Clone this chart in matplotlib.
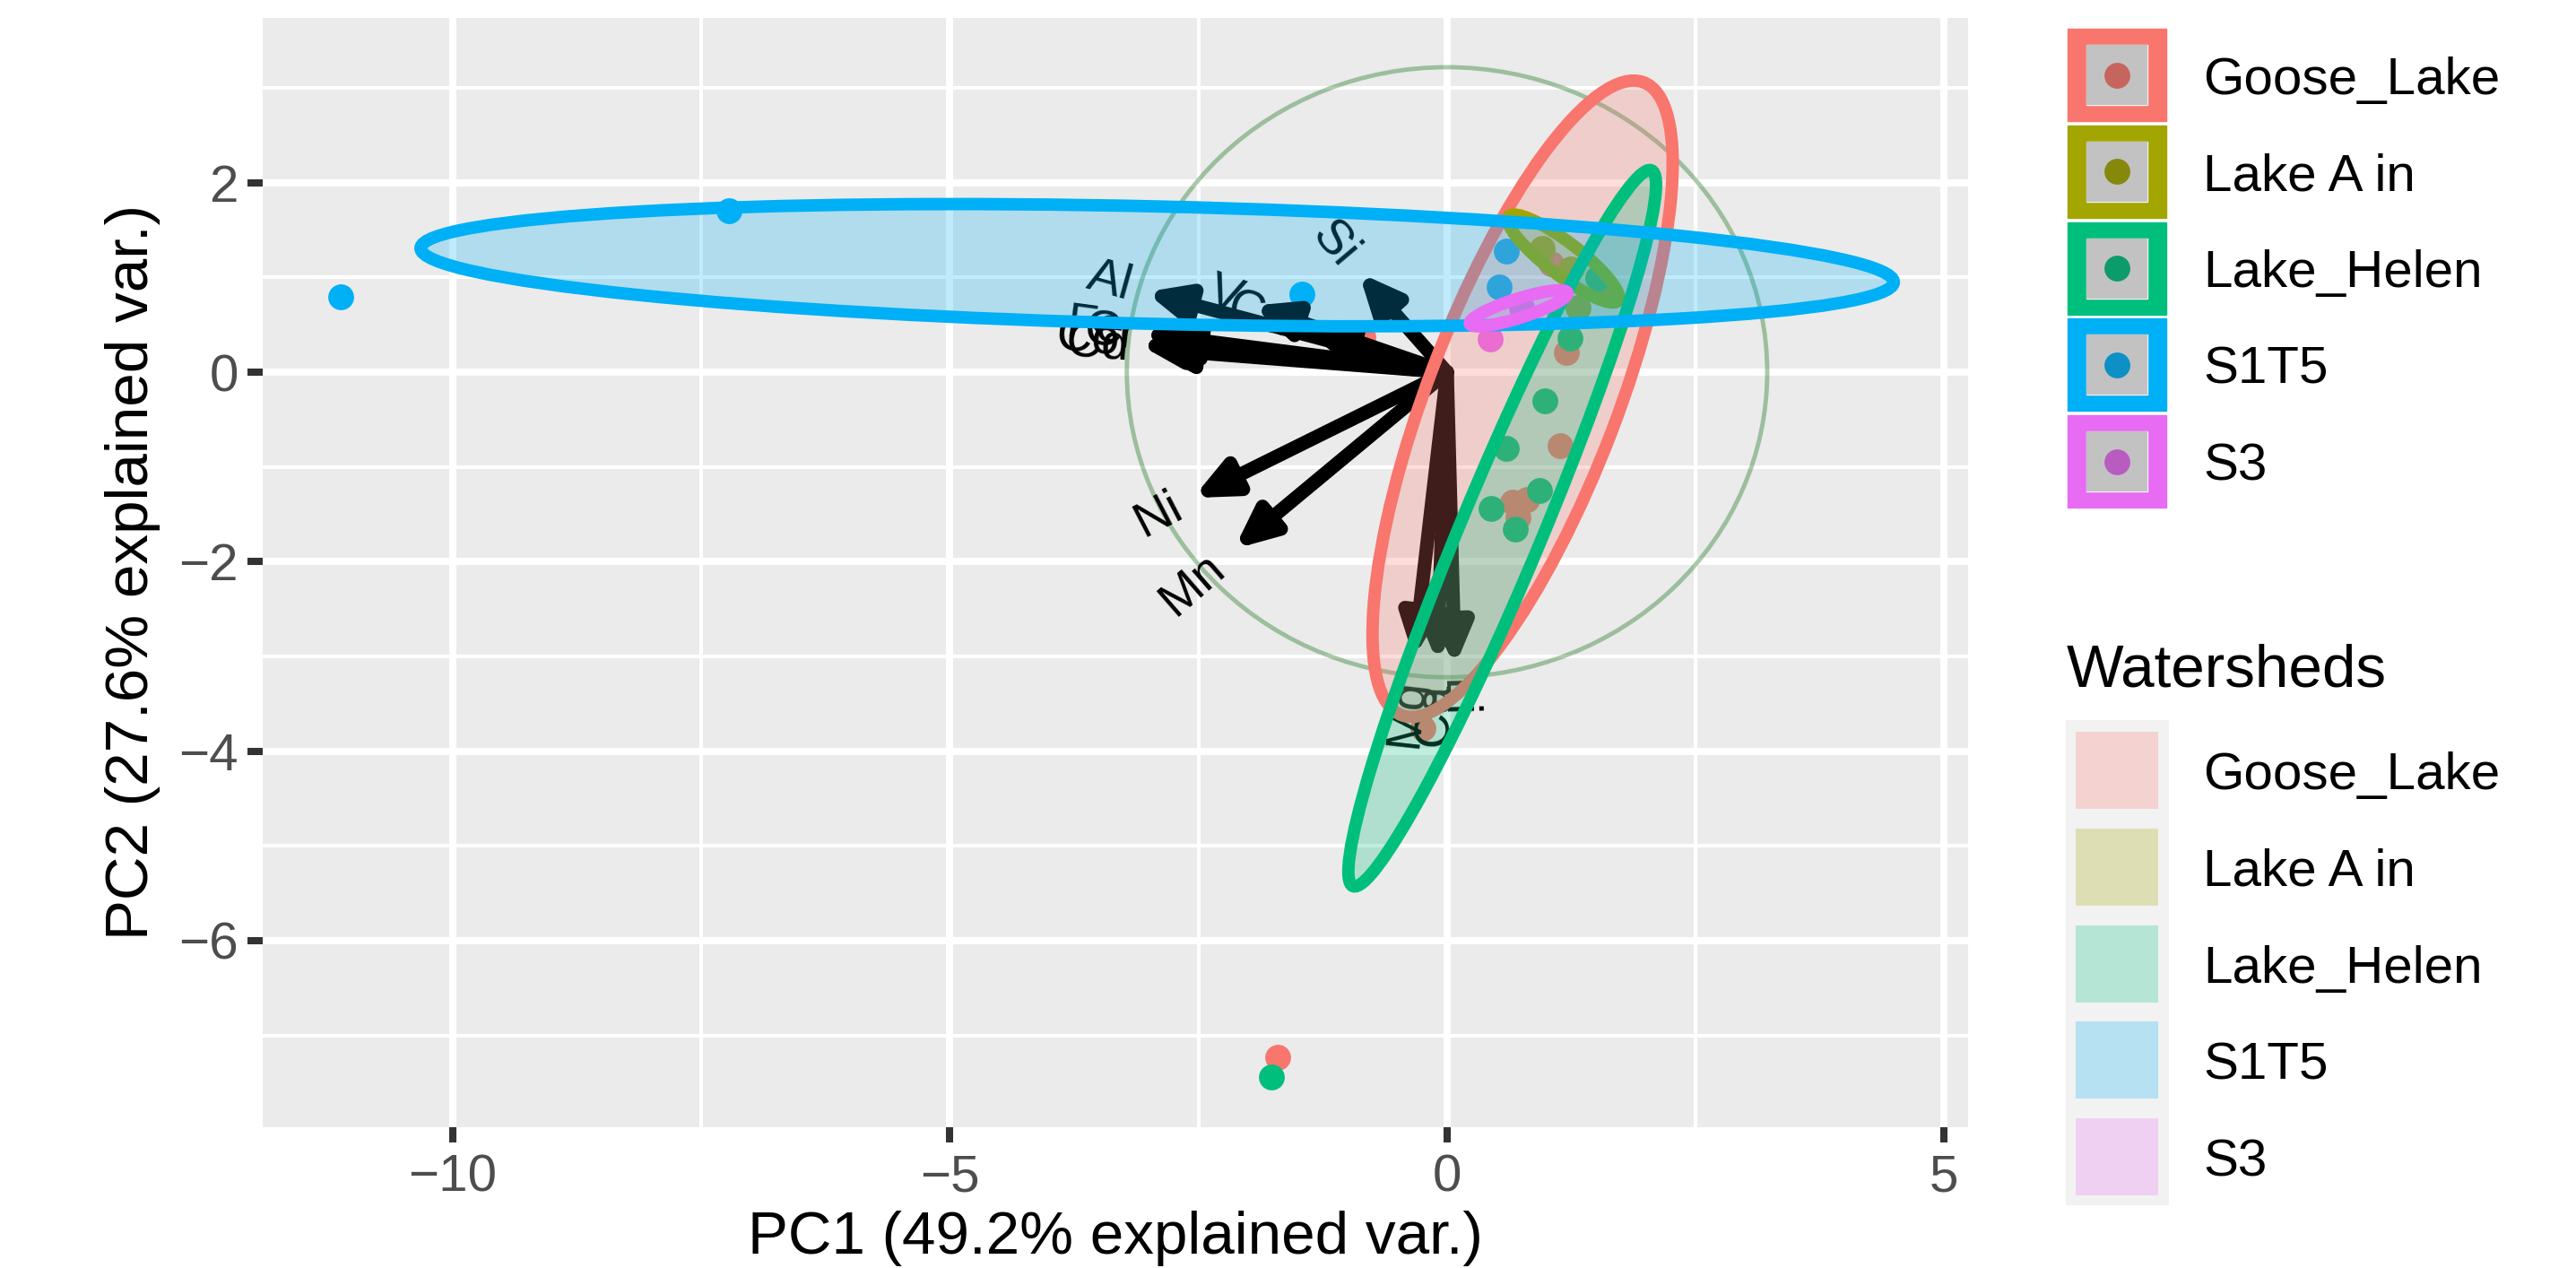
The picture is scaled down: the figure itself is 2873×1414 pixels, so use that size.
"""PCA biplot of water chemistry by watershed (ggbiplot-style)."""

import matplotlib

matplotlib.use("Agg")
import matplotlib.pyplot as plt
import numpy as np
from matplotlib.colors import to_rgba
from matplotlib.font_manager import FontProperties
from matplotlib.patches import Ellipse, FancyArrowPatch, Rectangle
from matplotlib.textpath import TextPath

plt.rcParams["font.family"] = ["Liberation Sans", "DejaVu Sans"]

W, H = 2873, 1414

# --- data ---
groups = ["Goose_Lake", "Lake A in", "Lake_Helen", "S1T5", "S3"]
group_colors = ["#F8766D", "#A3A500", "#00BF7D", "#00B0F6", "#E76BF3"]

# sample scores on PC1 / PC2
goose_pc1 = [-1.70, 1.05, 1.20, 1.14, 0.66, 0.80, 0.71, -0.24, -0.85]
goose_pc2 = [-7.23, 1.15, 0.21, -0.78, -1.37, -1.34, -1.53, -3.76, 0.37]
lakea_pc1 = [0.96, 1.25, 1.56, 1.32]
lakea_pc2 = [1.31, 1.09, 0.87, 0.68]
helen_pc1 = [-1.77, 1.24, 0.98, 0.60, 0.44, 0.69, 0.93, 1.52]
helen_pc2 = [-7.44, 0.36, -0.30, -0.80, -1.44, -1.66, -1.25, 0.99]
s1t5_pc1 = [-11.13, -7.22, -1.46, 0.60, 0.52]
s1t5_pc2 = [0.80, 1.70, 0.82, 1.28, 0.90]
s3_pc1 = [0.43, 0.75]
s3_pc2 = [0.35, 0.68]

# 68% ellipses per group: centre, semi-axes, angle (deg)
ell_cx = [0.76, 1.17, 0.555, -2.915, 0.72]
ell_cy = [-0.28, 1.20, -1.647, 1.13, 0.675]
ell_a = [3.555, 0.707, 4.065, 7.41, 0.517]
ell_b = [0.96, 0.17, 0.41, 0.62, 0.10]
ell_angle = [70.1, -39.0, 68.35, -1.39, 18.6]

# variable loadings (arrows)
var_names = ["Si", "Al", "V", "Cu", "Fe", "Cr", "Co", "Cd", "Ni", "Mn", "Mg", "Ca", "Li"]
var_pc1 = [-0.92, -3.08, -2.00, -1.45, -3.12, -3.00, -3.15, -3.05, -2.60, -2.18, -0.34, -0.10, 0.08]
var_pc2 = [1.09, 0.86, 0.72, 0.45, 0.42, 0.36, 0.30, 0.25, -1.35, -1.90, -3.07, -3.12, -3.16]
circle_r = 3.22

pcs1 = [goose_pc1, lakea_pc1, helen_pc1, s1t5_pc1, s3_pc1]
pcs2 = [goose_pc2, lakea_pc2, helen_pc2, s1t5_pc2, s3_pc2]

fig = plt.figure(figsize=(W / 100, H / 100), dpi=100)
ax = fig.add_axes([293 / W, 1 - 1257 / H, (2195 - 293) / W, (1257 - 20) / H])
ax.set_facecolor("#EBEBEB")
ax.set_xlim(-11.91, 5.24)
ax.set_ylim(-7.97, 3.74)
ax.set_xticks([-10, -5, 0, 5])
ax.set_xticks([-7.5, -2.5, 2.5], minor=True)
ax.set_yticks([-6, -4, -2, 0, 2])
ax.set_yticks([-7, -5, -3, -1, 1, 3], minor=True)
ax.grid(which="major", color="white", lw=5.8)
ax.grid(which="minor", color="white", lw=2.9)
ax.set_axisbelow(True)
for s in ax.spines.values():
    s.set_visible(False)
ax.tick_params(which="major", length=12, width=5.8, color="#333333",
               labelsize=42, labelcolor="#4D4D4D")
ax.tick_params(axis="x", which="major", pad=9)
ax.tick_params(axis="y", which="major", pad=7.5)
ax.tick_params(which="minor", length=0)

# unit circle
ax.add_patch(Ellipse((0, 0), 2 * circle_r, 2 * circle_r, fill=False,
                     edgecolor=to_rgba("darkgreen", 1 / 3), lw=3.5, zorder=1.5))

# points
for xs, ys, c in zip(pcs1, pcs2, group_colors):
    ax.scatter(xs, ys, s=430, color=c, lw=0, zorder=2)

# arrows + labels
fp = FontProperties(family="Liberation Sans", size=40)
for name, x, y in zip(var_names, var_pc1, var_pc2):
    arr = FancyArrowPatch((0, 0), (x, y), arrowstyle="-|>,head_length=1.0,head_width=0.45",
                          mutation_scale=26, lw=11, color="black",
                          shrinkA=0, shrinkB=4, joinstyle="round", capstyle="round",
                          zorder=3)
    ax.add_patch(arr)
    ang = np.degrees(np.arctan(y / x))
    w = TextPath((0, 0), name, prop=fp).get_extents().width
    ux, uy = np.cos(np.radians(ang)), np.sin(np.radians(ang))
    if x < 0:
        ux, uy = -ux, -uy
    ax.annotate(name, xy=(x, y), xytext=(0.25 * w * ux, 0.25 * w * uy),
                textcoords="offset points", rotation=ang, rotation_mode="anchor",
                ha="right" if x < 0 else "left", va="center", fontsize=40,
                color="black", zorder=3.5)

# ellipses
for i, c in enumerate(group_colors):
    ax.add_patch(Ellipse((ell_cx[i], ell_cy[i]), 2 * ell_a[i], 2 * ell_b[i],
                         angle=ell_angle[i], facecolor=to_rgba(c, 0.25),
                         edgecolor=c, lw=10, zorder=4 + i))

# axis titles
fig.text(1244 / W, 1 - 1398 / H, "PC1 (49.2% explained var.)", ha="center",
         va="baseline", fontsize=48.5)
fig.text(165 / W, 1 - 638 / H, "PC2 (27.6% explained var.)", rotation=90,
         rotation_mode="anchor", ha="center", va="baseline", fontsize=48.5)

# legends (drawn in pixel space)
lax = fig.add_axes([0, 0, 1, 1])
lax.set_xlim(0, W)
lax.set_ylim(H, 0)
lax.axis("off")

for i, (g, c) in enumerate(zip(groups, group_colors)):
    top = 32 + 107.8 * i
    lax.add_patch(Rectangle((2306, top), 110, 103, color=c))
    lax.add_patch(Rectangle((2327, top + 18), 68, 67, color="#F2F2F2"))
    lax.scatter([2361], [top + 51.5], s=430, color=c, lw=0)
    lax.add_patch(Rectangle((2327, top + 18), 68, 67, color="#333333", alpha=0.25, lw=0))
    lax.text(2457, top + 51.5 + 21, g, ha="left", va="baseline", fontsize=42)

lax.text(2305, 765, "Watersheds", ha="left", va="baseline", fontsize=48.5)
lax.add_patch(Rectangle((2304, 803), 115, 541, color="#F2F2F2", lw=0))
for i, (g, c) in enumerate(zip(groups, group_colors)):
    top = 816 + 107.8 * i
    lax.add_patch(Rectangle((2315, top), 92, 86, color=c, alpha=0.25, lw=0))
    lax.text(2457, top + 43 + 21, g, ha="left", va="baseline", fontsize=42)

fig.savefig("out.png", dpi=100)
